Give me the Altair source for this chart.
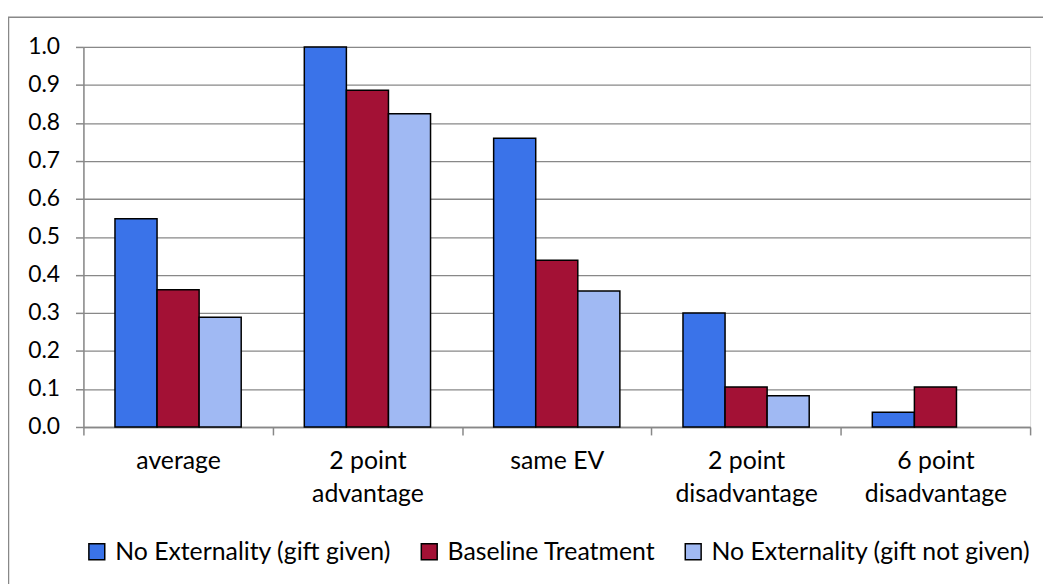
import altair as alt
import pandas as pd

categories = ["average", "2 point advantage", "same EV", "2 point disadvantage", "6 point disadvantage"]
series = ["No Externality (gift given)", "Baseline Treatment", "No Externality (gift not given)"]
gift_given = [0.548, 1.0, 0.76, 0.30, 0.039]
baseline = [0.361, 0.886, 0.439, 0.105, 0.105]
gift_not_given = [0.289, 0.824, 0.358, 0.082, 0.0]
colors = ["#3A73E9", "#A31135", "#A0B9F3"]

rows = []
for i, c in enumerate(categories):
    for s, vals in zip(series, [gift_given, baseline, gift_not_given]):
        rows.append({"category": c, "series": s, "value": vals[i]})
df = pd.DataFrame(rows)

FONT = "Lato"
FS = 25
GRAY = "#888888"

bars = alt.Chart(df).transform_filter("datum.value > 0").mark_bar(
    stroke="black", strokeWidth=1.5
).encode(
    x=alt.X("category:N", sort=categories, title=None,
            scale=alt.Scale(domain=categories, paddingInner=0, paddingOuter=0),
            axis=alt.Axis(labelAngle=0, tickBand="extent", tickSize=8, tickColor=GRAY,
                          domainColor=GRAY, domainWidth=1.5, tickWidth=1.5,
                          labelFont=FONT, labelFontSize=FS, labelColor="black",
                          labelPadding=14, labelLineHeight=33, labelBaseline="top",
                          labelExpr="split(replace(datum.label, 'point ', 'point|'), '|')")),
    xOffset=alt.XOffset("series:N", sort=series,
                        scale=alt.Scale(domain=series, paddingInner=0, paddingOuter=0.75)),
    y=alt.Y("value:Q", title=None,
            scale=alt.Scale(domain=[0, 1], nice=False),
            axis=alt.Axis(values=[i / 10 for i in range(11)], format=".1f", tickSize=8,
                          tickColor=GRAY, tickWidth=1.5, domainColor=GRAY, domainWidth=1.5,
                          gridColor=GRAY, gridWidth=1.3, grid=True,
                          labelFont=FONT, labelFontSize=23, labelColor="black", labelPadding=16)),
    color=alt.Color("series:N", sort=series,
                    scale=alt.Scale(domain=series, range=colors),
                    legend=alt.Legend(title=None, orient="none", direction="horizontal",
                                      legendX=1, legendY=496, padding=0,
                                      symbolType="square", symbolSize=256,
                                      symbolStrokeColor="black", symbolStrokeWidth=1.5,
                                      labelFont=FONT, labelFontSize=FS, labelColor="black",
                                      labelOffset=6, columnPadding=25, labelLimit=0)),
)

frame = alt.Chart(pd.DataFrame({"k": [0]})).mark_rect(
    fill=None, stroke=GRAY, strokeWidth=1.5
).encode(x=alt.value(-75.5), x2=alt.value(975), y=alt.value(-30), y2=alt.value(545))

chart = alt.layer(bars, frame).properties(
    width=954, height=383,
    autosize=alt.AutoSizeParams(type="none"),
    padding={"left": 76, "top": 37, "right": 13, "bottom": 156},
).configure_view(stroke=None).configure(background="white")

chart.save("out.html", embed_options={"renderer": "svg", "actions": False})
